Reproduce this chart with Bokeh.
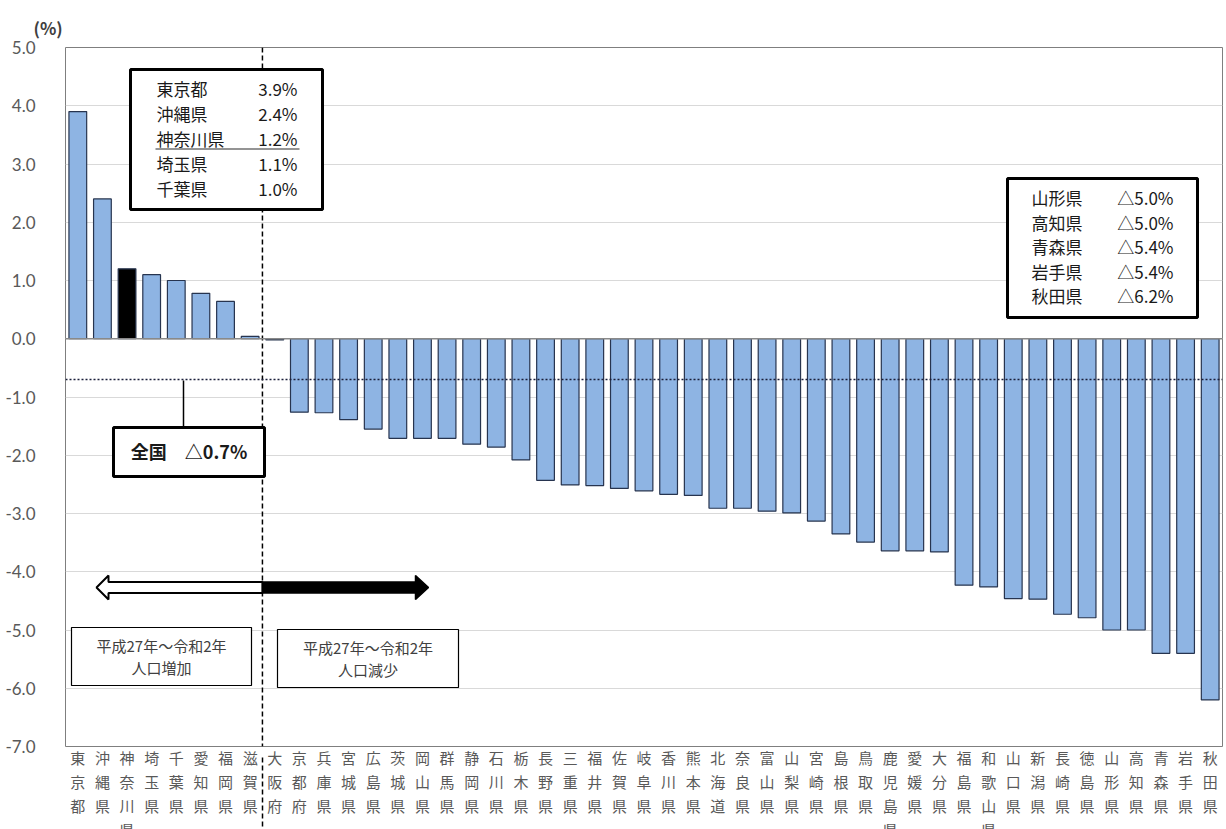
from bokeh.plotting import figure
from bokeh.models import (Range1d, FixedTicker, NumeralTickFormatter,
                          Span, Label, BoxAnnotation, PolyAnnotation, Arrow, ColumnDataSource,
                          LinearAxis)
from bokeh.embed import file_html
from bokeh.resources import INLINE

# Population change rate by prefecture, 2015 (平成27年) -> 2020 (令和2年), in %
prefectures = ["東京都", "沖縄県", "神奈川県", "埼玉県", "千葉県", "愛知県", "福岡県", "滋賀県",
               "大阪府", "京都府", "兵庫県", "宮城県", "広島県", "茨城県", "岡山県", "群馬県",
               "静岡県", "石川県", "栃木県", "長野県", "三重県", "福井県", "佐賀県", "岐阜県",
               "香川県", "熊本県", "北海道", "奈良県", "富山県", "山梨県", "宮崎県", "島根県",
               "鳥取県", "鹿児島県", "愛媛県", "大分県", "福島県", "和歌山県", "山口県", "新潟県",
               "長崎県", "徳島県", "山形県", "高知県", "青森県", "岩手県", "秋田県"]
rates = [3.9, 2.4, 1.2, 1.1, 1.0, 0.78, 0.64, 0.04,
         -0.02, -1.26, -1.27, -1.39, -1.55, -1.71, -1.71, -1.71,
         -1.81, -1.86, -2.08, -2.43, -2.51, -2.52, -2.57, -2.61,
         -2.67, -2.69, -2.91, -2.91, -2.96, -2.99, -3.13, -3.35,
         -3.49, -3.64, -3.64, -3.66, -4.23, -4.26, -4.46, -4.47,
         -4.73, -4.79, -5.0, -5.0, -5.4, -5.4, -6.2]
national_rate = -0.7
highlight = "神奈川県"
top_list = ["東京都", "沖縄県", "神奈川県", "埼玉県", "千葉県"]
bottom_list = ["山形県", "高知県", "青森県", "岩手県", "秋田県"]
y_ticks = list(range(-7, 6))

# layout (pixels)
W, H = 1226, 829
FL, FR, FT, FB = 65, 4, 47, 83
FW, FH = W - FL - FR, H - FT - FB
Y0, Y1 = -7.0, 5.0
N = len(prefectures)


def dx(px):
    return (px - FL) / FW * N


def dy(py):
    return Y1 - (py - FT) / FH * (Y1 - Y0)


def fmt(v):
    return ("△" if v < 0 else "") + f"{abs(v):.1f}%"


rate_of = dict(zip(prefectures, rates))
centers = [i + 0.5 for i in range(N)]
BAR = "#8EB4E3"
EDGE = "#27344F"
GRAY_TXT = "#595959"
JP = "Noto Sans CJK JP"

p = figure(width=W, height=H, output_backend="svg", toolbar_location=None,
           x_range=Range1d(0, N), y_range=Range1d(Y0, Y1),
           min_border_left=FL, min_border_right=FR, min_border_top=FT, min_border_bottom=FB)
p.frame_width = FW
p.frame_height = FH
p.background_fill_color = "white"
p.border_fill_color = "white"
p.outline_line_color = "#7F7F7F"
p.outline_line_width = 1

# unit label above the y axis
p.title.text = "(%)"
p.title.align = "left"
p.title.offset = -32
p.title.text_font = JP
p.title.text_font_size = "17px"
p.title.text_font_style = "bold"
p.title.text_color = "#404040"
p.title.standoff = 15

src = ColumnDataSource(dict(
    x=centers, pref=prefectures, rate=rates,
    color=["black" if n == highlight else BAR for n in prefectures]))
p.vbar(x="x", top="rate", bottom=0, width=0.72, source=src,
       fill_color="color", line_color=EDGE, line_width=1.2)

# y axis
p.yaxis.ticker = FixedTicker(ticks=y_ticks)
p.yaxis.formatter = NumeralTickFormatter(format="0.0")
p.yaxis.axis_line_color = None
p.yaxis.major_tick_line_color = None
p.yaxis.minor_tick_line_color = None
p.yaxis.major_label_text_font = "Lato"
p.yaxis.major_label_text_font_size = "17px"
p.yaxis.major_label_text_color = GRAY_TXT
p.yaxis.major_label_standoff = 24


# prefecture names written vertically: one axis per character row
def style_row(ax, standoff):
    ax.ticker = FixedTicker(ticks=centers)
    ax.axis_line_color = None
    ax.major_tick_line_color = None
    ax.minor_tick_line_color = None
    ax.major_tick_in = 0
    ax.major_tick_out = 0
    ax.major_label_text_font = JP
    ax.major_label_text_font_size = "15px"
    ax.major_label_text_color = GRAY_TXT
    ax.major_label_standoff = standoff


rows = max(len(n) for n in prefectures)
p.xaxis.major_label_overrides = {c: n[0] for c, n in zip(centers, prefectures)}
style_row(p.xaxis[0], 0)
for k in range(1, rows):
    ax = LinearAxis(major_label_overrides={c: (n[k] if len(n) > k else "")
                                           for c, n in zip(centers, prefectures)})
    style_row(ax, 0)
    p.add_layout(ax, "below")

# divider between increasing and decreasing prefectures (inside the frame) ...
split = sum(1 for r in rates if r > 0)
p.add_layout(Span(location=split, dimension="height", line_color="black",
                  line_width=1.5, line_dash="5 3"))
# ... and its continuation through the name rows
div_axis = LinearAxis(ticker=FixedTicker(ticks=[split]),
                      major_label_overrides={split: ""}, major_label_text_font_size="0px",
                      major_label_standoff=0, axis_line_color=None, minor_tick_line_color=None,
                      major_tick_line_color="black", major_tick_line_width=1.5,
                      major_tick_line_dash="5 3", major_tick_in=85, major_tick_out=0)
p.add_layout(div_axis, "below")

p.xgrid.visible = False
p.ygrid.ticker = FixedTicker(ticks=y_ticks)
p.ygrid.grid_line_color = "#D9D9D9"
p.ygrid.grid_line_width = 1

# zero axis line and national average
p.add_layout(Span(location=0, dimension="width", line_color="#898989", line_width=1.5))
p.add_layout(Span(location=national_rate, dimension="width", line_color="#1A1F3A",
                  line_width=1.5, line_dash="2 2"))


def box(l, r, t, b, lw):
    p.add_layout(BoxAnnotation(left=dx(l), right=dx(r), top=dy(t), bottom=dy(b),
                               fill_color="white", fill_alpha=1.0,
                               line_color="black", line_alpha=1.0, line_width=lw))


def text(px, py, s, align="left", size="17px", color="#1A1A1A", style="normal"):
    p.add_layout(Label(x=dx(px), y=dy(py), text=s, text_font=JP, text_font_size=size,
                       text_color=color, text_align=align, text_baseline="middle",
                       text_font_style=style))


# top-5 box
box(130, 322, 69, 209, 3)
for i, name in enumerate(top_list):
    yy = 88 + i * 25
    text(156, yy, name)
    text(297, yy, fmt(rate_of[name]), align="right")
p.add_layout(Arrow(end=None, x_start=dx(155), y_start=dy(148.5), x_end=dx(299), y_end=dy(148.5),
                   line_color="#707070", line_width=1.5))

# bottom-5 box
box(1007, 1197, 178, 317, 3)
for i, name in enumerate(bottom_list):
    yy = 197 + i * 24.6
    text(1031, yy, name)
    text(1173, yy, fmt(rate_of[name]), align="right")

# national average callout
p.add_layout(Arrow(end=None, x_start=dx(183), y_start=dy(380), x_end=dx(183), y_end=dy(427),
                   line_color="black", line_width=1.5))
box(113, 264, 427, 476, 3)
text(188.5, 450, "全国　" + fmt(national_rate), align="center", size="18px", style="bold")

# direction arrows
ay, sh, hh = 587, 5.5, 12
p.add_layout(PolyAnnotation(
    xs=[dx(v) for v in [96, 108, 108, 262, 262, 108, 108]],
    ys=[dy(v) for v in [ay, ay - hh, ay - sh, ay - sh, ay + sh, ay + sh, ay + hh]],
    fill_color="white", fill_alpha=1.0, line_color="black", line_alpha=1.0, line_width=2))
p.add_layout(PolyAnnotation(
    xs=[dx(v) for v in [428, 415, 415, 262, 262, 415, 415]],
    ys=[dy(v) for v in [ay, ay - hh, ay - sh, ay - sh, ay + sh, ay + sh, ay + hh]],
    fill_color="black", fill_alpha=1.0, line_color="black", line_alpha=1.0, line_width=1.5))

# period boxes
box(71, 251, 627, 685, 1.2)
text(161, 645, "平成27年～令和2年", align="center", size="15px", color="#404040")
text(161, 667, "人口増加", align="center", size="15px", color="#404040")
box(277, 458, 629, 687, 1.2)
text(367.5, 647, "平成27年～令和2年", align="center", size="15px", color="#404040")
text(367.5, 669, "人口減少", align="center", size="15px", color="#404040")

open("out.html", "w").write(file_html(p, INLINE))
